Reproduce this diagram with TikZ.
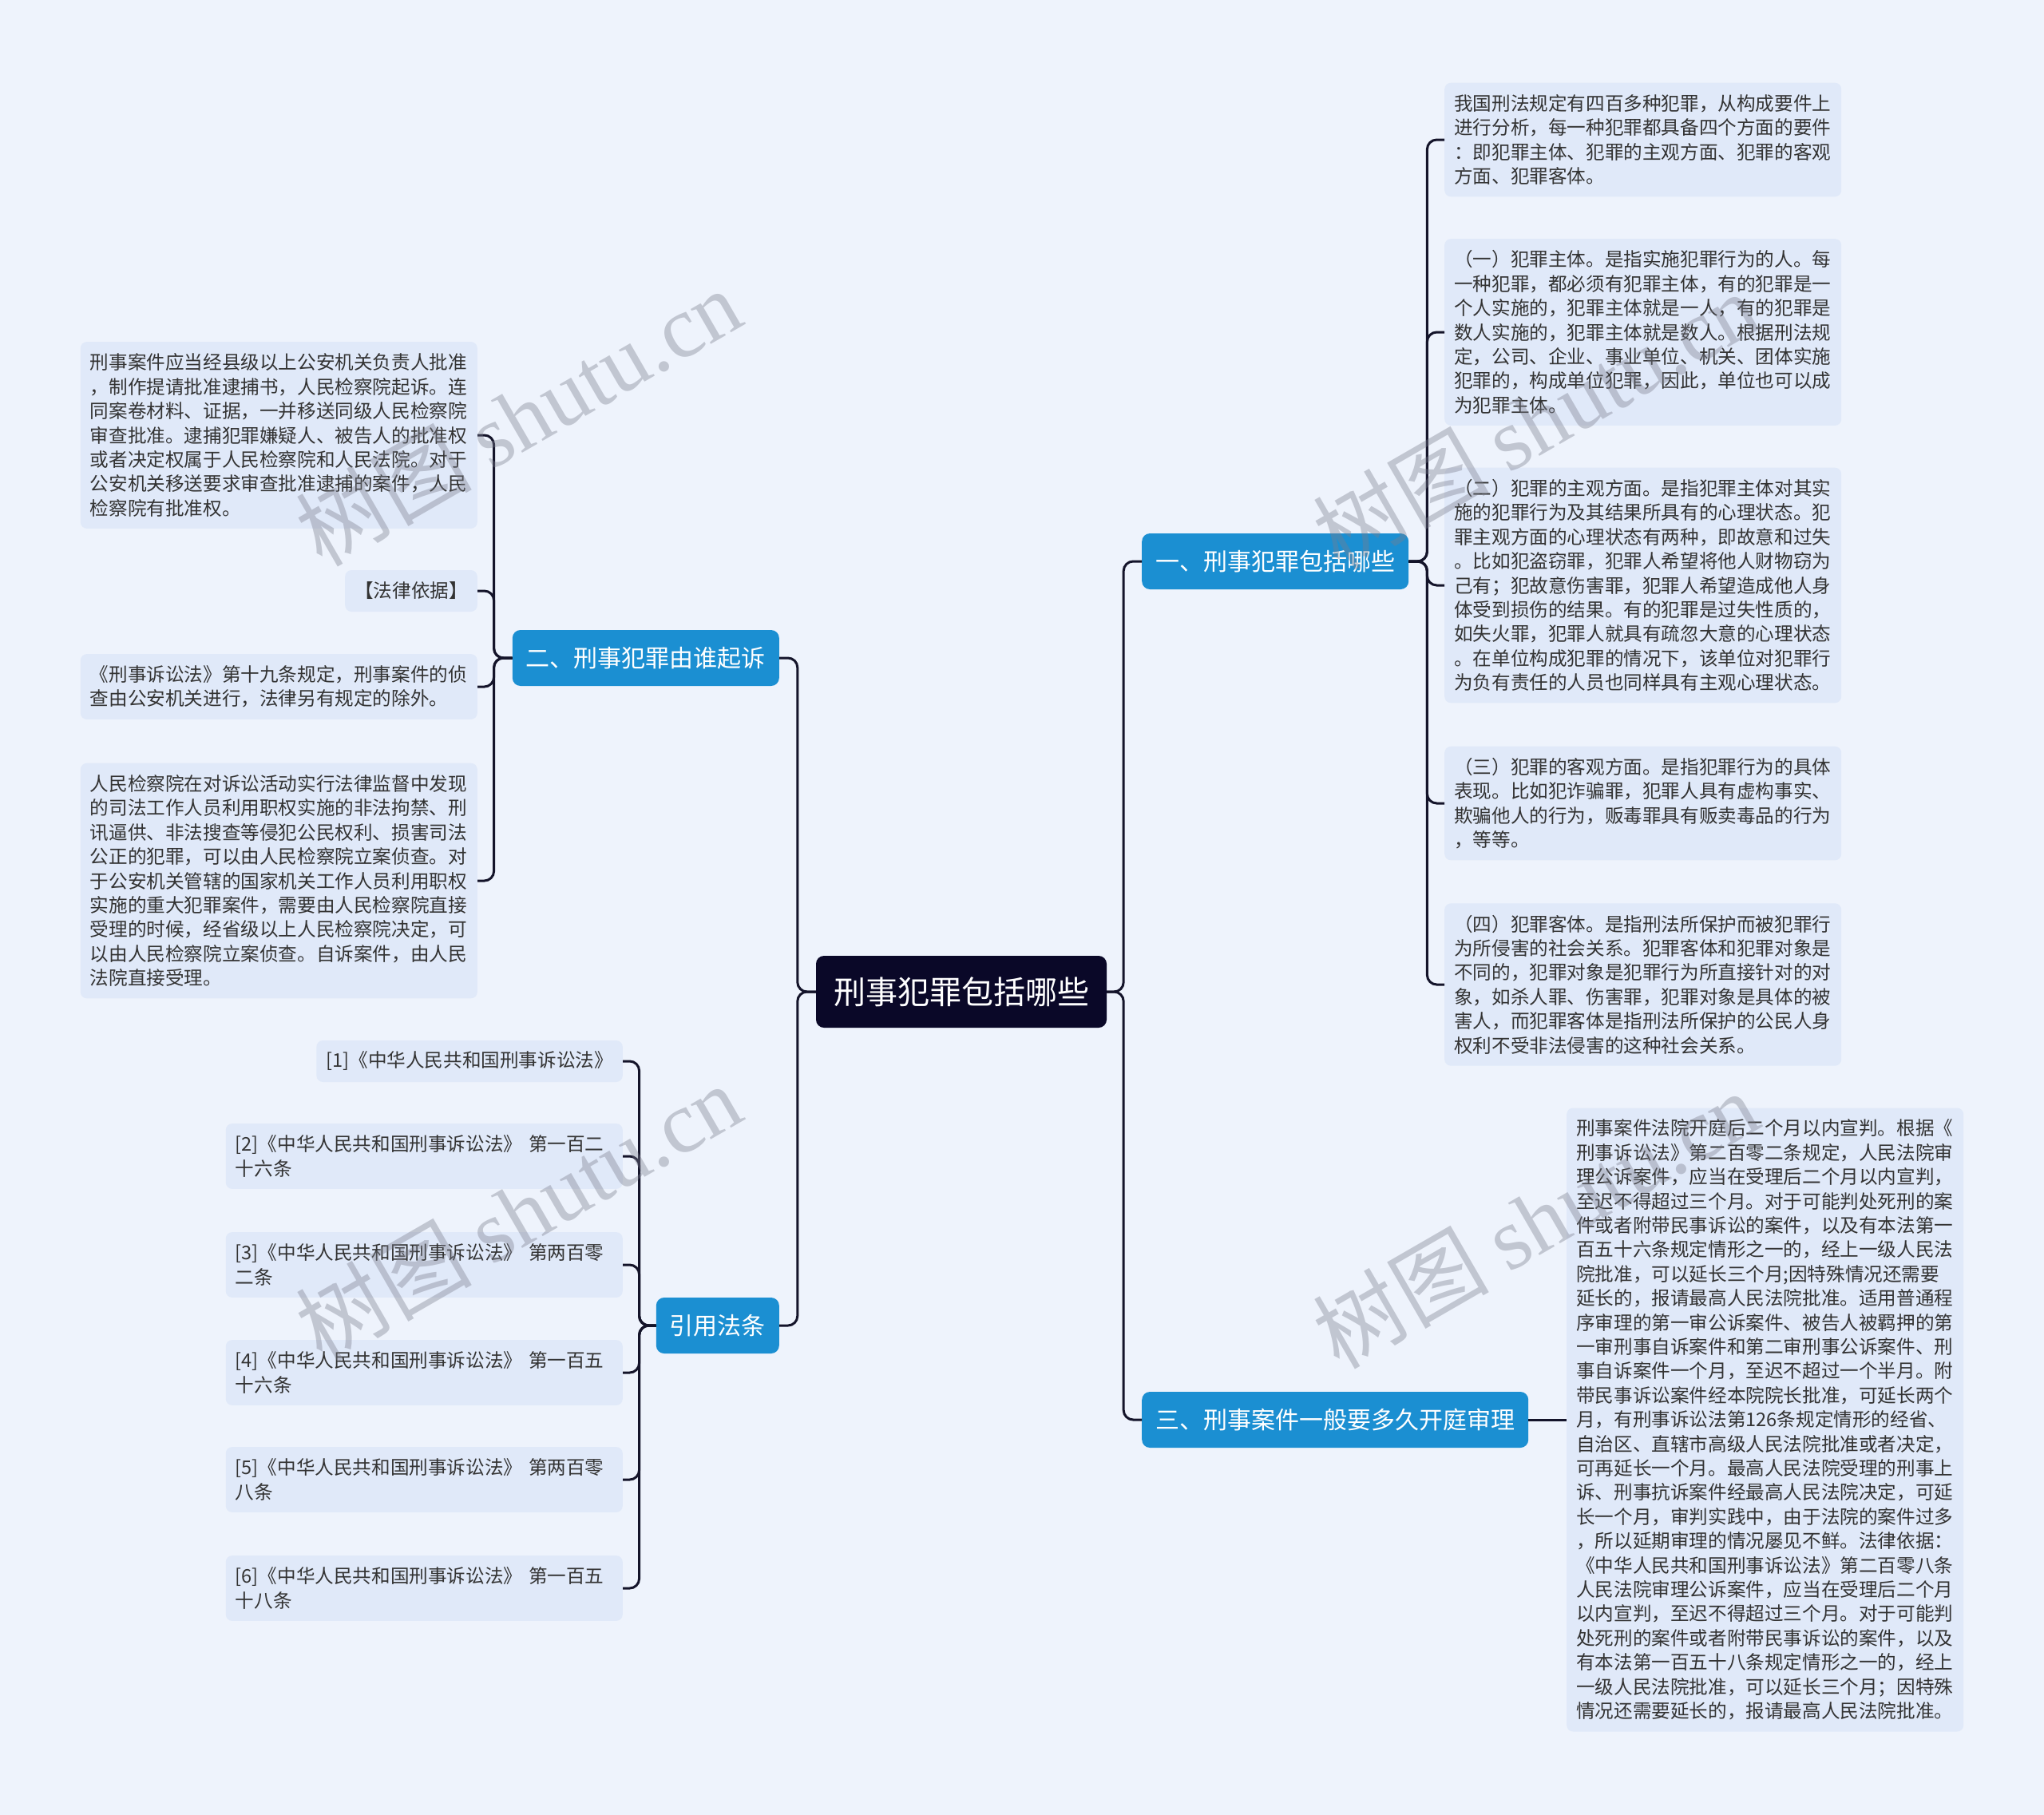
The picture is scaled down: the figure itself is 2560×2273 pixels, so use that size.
\documentclass[tikz,border=0pt]{standalone}
\usepackage{fontspec}
\setmainfont{Noto Sans CJK SC}
\newfontfamily\wmserif{Liberation Serif}
\definecolor{bg}{HTML}{EEF3FC}
\definecolor{notefill}{HTML}{E0E9F9}
\definecolor{branchfill}{HTML}{1B8FD2}
\definecolor{rootfill}{HTML}{0A0828}
\definecolor{linecol}{HTML}{14142A}
\definecolor{txt}{HTML}{333333}
\definecolor{wmcol}{HTML}{7A7D8C}
\newcommand\mynotefont{\fontsize{23.6}{30.4}\selectfont}
\newcommand\mybranchfont{\fontsize{30}{36}\selectfont}
\newcommand\myrootfont{\fontsize{40}{48}\selectfont}
\newcommand\mywmfont{\fontsize{110}{120}\selectfont}
\tikzset{
 conn/.style={draw=linecol, line width=3pt, rounded corners=12pt},
 note/.style={fill=notefill, rounded corners=8pt, inner xsep=12pt, inner ysep=0pt, text width=473pt, align=left, font=\mynotefont, text=txt, minimum height={#1*30.4pt+21pt}},
 shortnote/.style={fill=notefill, rounded corners=8pt, inner xsep=12pt, inner ysep=0pt, font=\mynotefont, text=txt, minimum height=52pt},
 branch/.style={fill=branchfill, rounded corners=10pt, inner xsep=17pt, inner ysep=0pt, minimum height=70pt, font=\mybranchfont, text=white},
 rootnode/.style={fill=rootfill, rounded corners=10pt, inner xsep=20pt, inner ysep=0pt, minimum height=90pt, minimum width=364pt, font=\myrootfont, text=white},
 wm/.style={rotate=30, opacity=0.38, text=wmcol, font=\mywmfont}
}
\begin{document}
\begin{tikzpicture}[x=1pt,y=-1pt]
\fill[bg] (0,0) rectangle (2560,2273);
\useasboundingbox (0,0) rectangle (2560,2273);

% root and branches
\node[rootnode] (root) at (1204,1242) {刑事犯罪包括哪些};
\node[branch, anchor=west] (b1) at (1430,703) {一、刑事犯罪包括哪些};
\node[branch, anchor=east] (b2) at (976,824) {二、刑事犯罪由谁起诉};
\node[branch, anchor=east] (b4) at (976,1660) {引用法条};
\node[branch, anchor=west] (b3) at (1430,1778) {三、刑事案件一般要多久开庭审理};

% right children of b1
\node[note=4, anchor=west] (a1) at (1809,175) {我国刑法规定有四百多种犯罪，从构成要件上\\
进行分析，每一种犯罪都具备四个方面的要件\\
：即犯罪主体、犯罪的主观方面、犯罪的客观\\
方面、犯罪客体。};
\node[note=7, anchor=west] (a2) at (1809,416) {（一）犯罪主体。是指实施犯罪行为的人。每\\
一种犯罪，都必须有犯罪主体，有的犯罪是一\\
个人实施的，犯罪主体就是一人，有的犯罪是\\
数人实施的，犯罪主体就是数人。根据刑法规\\
定，公司、企业、事业单位、机关、团体实施\\
犯罪的，构成单位犯罪，因此，单位也可以成\\
为犯罪主体。};
\node[note=9, anchor=west] (a3) at (1809,733) {（二）犯罪的主观方面。是指犯罪主体对其实\\
施的犯罪行为及其结果所具有的心理状态。犯\\
罪主观方面的心理状态有两种，即故意和过失\\
。比如犯盗窃罪，犯罪人希望将他人财物窃为\\
己有；犯故意伤害罪，犯罪人希望造成他人身\\
体受到损伤的结果。有的犯罪是过失性质的，\\
如失火罪，犯罪人就具有疏忽大意的心理状态\\
。在单位构成犯罪的情况下，该单位对犯罪行\\
为负有责任的人员也同样具有主观心理状态。};
\node[note=4, anchor=west] (a4) at (1809,1006) {（三）犯罪的客观方面。是指犯罪行为的具体\\
表现。比如犯诈骗罪，犯罪人具有虚构事实、\\
欺骗他人的行为，贩毒罪具有贩卖毒品的行为\\
，等等。};
\node[note=6, anchor=west] (a5) at (1809,1233) {（四）犯罪客体。是指刑法所保护而被犯罪行\\
为所侵害的社会关系。犯罪客体和犯罪对象是\\
不同的，犯罪对象是犯罪行为所直接针对的对\\
象，如杀人罪、伤害罪，犯罪对象是具体的被\\
害人，而犯罪客体是指刑法所保护的公民人身\\
权利不受非法侵害的这种社会关系。};

% left children of b2
\node[note=7, anchor=east] (l1) at (598,545) {刑事案件应当经县级以上公安机关负责人批准\\
，制作提请批准逮捕书，人民检察院起诉。连\\
同案卷材料、证据，一并移送同级人民检察院\\
审查批准。逮捕犯罪嫌疑人、被告人的批准权\\
或者决定权属于人民检察院和人民法院。对于\\
公安机关移送要求审查批准逮捕的案件，人民\\
检察院有批准权。};
\node[shortnote, anchor=east] (l2) at (598,740) {【法律依据】};
\node[note=2, anchor=east] (l3) at (598,860) {《刑事诉讼法》第十九条规定，刑事案件的侦\\
查由公安机关进行，法律另有规定的除外。};
\node[note=9, anchor=east] (l4) at (598,1103) {人民检察院在对诉讼活动实行法律监督中发现\\
的司法工作人员利用职权实施的非法拘禁、刑\\
讯逼供、非法搜查等侵犯公民权利、损害司法\\
公正的犯罪，可以由人民检察院立案侦查。对\\
于公安机关管辖的国家机关工作人员利用职权\\
实施的重大犯罪案件，需要由人民检察院直接\\
受理的时候，经省级以上人民检察院决定，可\\
以由人民检察院立案侦查。自诉案件，由人民\\
法院直接受理。};

% children of b4
\node[shortnote, anchor=east] (r1) at (780,1329) {[1]《中华人民共和国刑事诉讼法》};
\node[note=2, anchor=east] (r2) at (780,1448) {[2]《中华人民共和国刑事诉讼法》 第一百二\\
十六条};
\node[note=2, anchor=east] (r3) at (780,1584) {[3]《中华人民共和国刑事诉讼法》 第两百零\\
二条};
\node[note=2, anchor=east] (r4) at (780,1719) {[4]《中华人民共和国刑事诉讼法》 第一百五\\
十六条};
\node[note=2, anchor=east] (r5) at (780,1853) {[5]《中华人民共和国刑事诉讼法》 第两百零\\
八条};
\node[note=2, anchor=east] (r6) at (780,1989) {[6]《中华人民共和国刑事诉讼法》 第一百五\\
十八条};

% child of b3
\node[note=25, anchor=west] (c1) at (1962,1778) {刑事案件法院开庭后二个月以内宣判。根据《\\
刑事诉讼法》第二百零二条规定，人民法院审\\
理公诉案件，应当在受理后二个月以内宣判，\\
至迟不得超过三个月。对于可能判处死刑的案\\
件或者附带民事诉讼的案件，以及有本法第一\\
百五十六条规定情形之一的，经上一级人民法\\
院批准，可以延长三个月;因特殊情况还需要\\
延长的，报请最高人民法院批准。适用普通程\\
序审理的第一审公诉案件、被告人被羁押的第\\
一审刑事自诉案件和第二审刑事公诉案件、刑\\
事自诉案件一个月，至迟不超过一个半月。附\\
带民事诉讼案件经本院院长批准，可延长两个\\
月，有刑事诉讼法第126条规定情形的经省、\\
自治区、直辖市高级人民法院批准或者决定，\\
可再延长一个月。最高人民法院受理的刑事上\\
诉、刑事抗诉案件经最高人民法院决定，可延\\
长一个月，审判实践中，由于法院的案件过多\\
，所以延期审理的情况屡见不鲜。法律依据：\\
《中华人民共和国刑事诉讼法》第二百零八条\\
人民法院审理公诉案件，应当在受理后二个月\\
以内宣判，至迟不得超过三个月。对于可能判\\
处死刑的案件或者附带民事诉讼的案件，以及\\
有本法第一百五十八条规定情形之一的，经上\\
一级人民法院批准，可以延长三个月；因特殊\\
情况还需要延长的，报请最高人民法院批准。};

% connectors
\draw[conn] (root.east) -- ++(21,0) |- (b1.west);
\draw[conn] (root.east) -- ++(21,0) |- (b3.west);
\draw[conn] (root.west) -- ++(-23,0) |- (b2.east);
\draw[conn] (root.west) -- ++(-23,0) |- (b4.east);
\foreach \n in {a1,a2,a3,a4,a5}{
  \draw[conn] (b1.east) -- ++(23,0) |- (\n.west);
}
\foreach \n in {l1,l2,l3,l4}{
  \draw[conn] (b2.west) -- ++(-23,0) |- (\n.east);
}
\foreach \n in {r1,r2,r3,r4,r5,r6}{
  \draw[conn] (b4.west) -- ++(-21,0) |- (\n.east);
}
\draw[conn] (b3.east) -- (c1.west);

% watermarks
\node[wm] (w1) at (649,522) {树图 {\wmserif shutu.cn}};
\node[wm] (w2) at (649,1518) {树图 {\wmserif shutu.cn}};
\node[wm] (w3) at (1923,526) {树图 {\wmserif shutu.cn}};
\node[wm] (w4) at (1923,1527) {树图 {\wmserif shutu.cn}};
\end{tikzpicture}
\end{document}
